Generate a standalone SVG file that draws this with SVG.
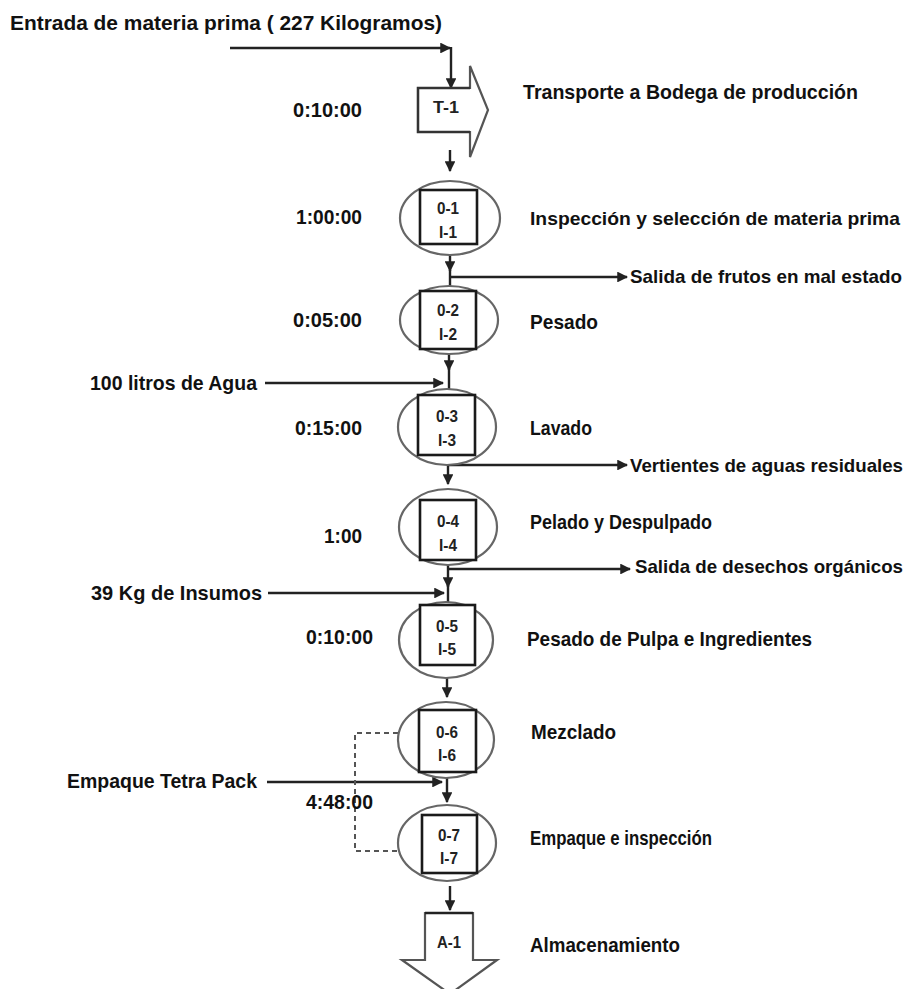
<svg xmlns="http://www.w3.org/2000/svg" width="915" height="989" viewBox="0 0 915 989">
<style>
.t{font-family:"Liberation Sans",Arial,sans-serif;font-weight:bold;font-size:21px;fill:#111}
.r{font-size:18.5px}
.n{font-family:"Liberation Sans",Arial,sans-serif;font-weight:bold;font-size:17px;fill:#222;text-anchor:middle}
.el{fill:#fff;stroke:#666;stroke-width:2.2}
.sq{fill:#fff;stroke:#1a1a1a;stroke-width:2.6}
.ln{fill:none;stroke:#222;stroke-width:2.4}
.ds{fill:none;stroke:#555;stroke-width:2;stroke-dasharray:5,4}
.sh{fill:#fff;stroke:#555;stroke-width:2.2;stroke-linejoin:miter}
</style>
<defs>
<marker id="ah" viewBox="0 0 10 10" refX="9" refY="5" markerWidth="4.5" markerHeight="4.5" orient="auto" markerUnits="strokeWidth">
<path d="M0,0 L10,5 L0,10 z" fill="#222"/>
</marker>
</defs>
<rect width="915" height="989" fill="#fff"/>

<g id="connectors">
<line class="ln" x1="230" y1="48" x2="450" y2="48" marker-end="url(#ah)"/>
<line class="ln" x1="451" y1="47" x2="451" y2="88" marker-end="url(#ah)"/>
<line class="ln" x1="450" y1="150" x2="450" y2="171" marker-end="url(#ah)"/>
<line class="ln" x1="450" y1="255" x2="450" y2="271" marker-end="url(#ah)"/>
<line class="ln" x1="450" y1="270" x2="450" y2="288"/>
<line class="ln" x1="450" y1="277" x2="627" y2="277" marker-end="url(#ah)"/>
<line class="ln" x1="449" y1="353" x2="449" y2="370" marker-end="url(#ah)"/>
<line class="ln" x1="449" y1="368" x2="449" y2="390"/>
<line class="ln" x1="265" y1="383" x2="443" y2="383" marker-end="url(#ah)"/>
<line class="ln" x1="448" y1="465" x2="627" y2="465" marker-end="url(#ah)"/>
<line class="ln" x1="448" y1="465" x2="448" y2="484" marker-end="url(#ah)"/>
<line class="ln" x1="448" y1="569" x2="630" y2="569" marker-end="url(#ah)"/>
<line class="ln" x1="448" y1="565" x2="448" y2="587" marker-end="url(#ah)"/>
<line class="ln" x1="448" y1="585" x2="448" y2="602"/>
<line class="ln" x1="268" y1="593" x2="444" y2="593" marker-end="url(#ah)"/>
<line class="ln" x1="447" y1="677" x2="447" y2="697" marker-end="url(#ah)"/>
<line class="ln" x1="447" y1="778" x2="447" y2="802" marker-end="url(#ah)"/>
<line class="ln" x1="267" y1="782" x2="442" y2="782" marker-end="url(#ah)"/>
<polyline class="ds" points="398,733 355,733 355,851 398,851"/>
<line class="ln" x1="450" y1="886" x2="450" y2="910" marker-end="url(#ah)"/>
</g>

<g id="title"><text class="t" x="10" y="30" textLength="432" lengthAdjust="spacingAndGlyphs">Entrada de materia prima ( 227 Kilogramos)</text></g>

<g id="T-1">
<polygon class="sh" points="418,88 470,88 470,66 488,110 470,157 470,132 418,132"/>
<polyline fill="none" stroke="#333" stroke-width="2.4" points="470,88 418,88 418,132 470,132"/>
<text class="n" x="446" y="113" textLength="26" lengthAdjust="spacingAndGlyphs">T-1</text>
<text class="t" x="293" y="117" textLength="69" lengthAdjust="spacingAndGlyphs">0:10:00</text>
<text class="t" x="523" y="99" textLength="335" lengthAdjust="spacingAndGlyphs">Transporte a Bodega de producción</text>
</g>

<g id="O-1">
<ellipse class="el" cx="450" cy="218" rx="50" ry="37"/>
<rect class="sq" x="420" y="190" width="57" height="54"/>
<text class="n" x="448" y="214" textLength="22" lengthAdjust="spacingAndGlyphs">0-1</text>
<text class="n" x="448" y="238" textLength="18" lengthAdjust="spacingAndGlyphs">I-1</text>
<text class="t" x="296" y="224" textLength="66" lengthAdjust="spacingAndGlyphs">1:00:00</text>
<text class="t r" x="530" y="225" textLength="370" lengthAdjust="spacingAndGlyphs">Inspección y selección de materia prima</text>
<text class="t r" x="630" y="283" textLength="272" lengthAdjust="spacingAndGlyphs">Salida de frutos en mal estado</text>
</g>

<g id="O-2">
<ellipse class="el" cx="449" cy="320" rx="49" ry="34"/>
<rect class="sq" x="420" y="291" width="56" height="58"/>
<text class="n" x="448" y="316" textLength="22" lengthAdjust="spacingAndGlyphs">0-2</text>
<text class="n" x="448" y="340" textLength="18" lengthAdjust="spacingAndGlyphs">I-2</text>
<text class="t" x="293" y="327" textLength="69" lengthAdjust="spacingAndGlyphs">0:05:00</text>
<text class="t" x="530" y="329" textLength="68" lengthAdjust="spacingAndGlyphs">Pesado</text>
<text class="t" x="90" y="390" textLength="167" lengthAdjust="spacingAndGlyphs">100 litros de Agua</text>
</g>

<g id="O-3">
<ellipse class="el" cx="447" cy="427" rx="49" ry="38"/>
<rect class="sq" x="418" y="395" width="57" height="60"/>
<text class="n" x="447" y="422" textLength="22" lengthAdjust="spacingAndGlyphs">0-3</text>
<text class="n" x="447" y="446" textLength="18" lengthAdjust="spacingAndGlyphs">I-3</text>
<text class="t" x="295" y="435" textLength="67" lengthAdjust="spacingAndGlyphs">0:15:00</text>
<text class="t" x="530" y="435" textLength="62" lengthAdjust="spacingAndGlyphs">Lavado</text>
<text class="t r" x="630" y="472" textLength="273" lengthAdjust="spacingAndGlyphs">Vertientes de aguas residuales</text>
</g>

<g id="O-4">
<ellipse class="el" cx="448" cy="527" rx="49" ry="38"/>
<rect class="sq" x="420" y="500" width="56" height="60"/>
<text class="n" x="448" y="527" textLength="22" lengthAdjust="spacingAndGlyphs">0-4</text>
<text class="n" x="448" y="551" textLength="18" lengthAdjust="spacingAndGlyphs">I-4</text>
<text class="t" x="324" y="543" textLength="38" lengthAdjust="spacingAndGlyphs">1:00</text>
<text class="t" x="530" y="529" textLength="182" lengthAdjust="spacingAndGlyphs">Pelado y Despulpado</text>
<text class="t r" x="635" y="573" textLength="268" lengthAdjust="spacingAndGlyphs">Salida de desechos orgánicos</text>
<text class="t" x="91" y="600" textLength="171" lengthAdjust="spacingAndGlyphs">39 Kg de  Insumos</text>
</g>

<g id="O-5">
<ellipse class="el" cx="446" cy="640" rx="47" ry="38"/>
<rect class="sq" x="420" y="605" width="55" height="60"/>
<text class="n" x="447" y="632" textLength="22" lengthAdjust="spacingAndGlyphs">0-5</text>
<text class="n" x="447" y="655" textLength="18" lengthAdjust="spacingAndGlyphs">I-5</text>
<text class="t" x="306" y="644" textLength="67" lengthAdjust="spacingAndGlyphs">0:10:00</text>
<text class="t" x="527" y="646" textLength="285" lengthAdjust="spacingAndGlyphs">Pesado de Pulpa e Ingredientes</text>
</g>

<g id="O-6">
<ellipse class="el" cx="446" cy="740" rx="48" ry="38"/>
<rect class="sq" x="419" y="710" width="57" height="62"/>
<text class="n" x="447" y="738" textLength="22" lengthAdjust="spacingAndGlyphs">0-6</text>
<text class="n" x="447" y="761" textLength="18" lengthAdjust="spacingAndGlyphs">I-6</text>
<text class="t" x="531" y="739" textLength="85" lengthAdjust="spacingAndGlyphs">Mezclado</text>
<text class="t" x="67" y="788" textLength="190" lengthAdjust="spacingAndGlyphs">Empaque Tetra Pack</text>
<text class="t" x="306" y="809" textLength="67" lengthAdjust="spacingAndGlyphs">4:48:00</text>
</g>

<g id="O-7">
<ellipse class="el" cx="447" cy="843" rx="49" ry="38"/>
<rect class="sq" x="422" y="815" width="55" height="58"/>
<text class="n" x="449" y="841" textLength="22" lengthAdjust="spacingAndGlyphs">0-7</text>
<text class="n" x="449" y="864" textLength="18" lengthAdjust="spacingAndGlyphs">I-7</text>
<text class="t" x="530" y="845" textLength="182" lengthAdjust="spacingAndGlyphs">Empaque e inspección</text>
</g>

<g id="A-1">
<polygon class="sh" points="425,913 473,913 473,960 497,960 450,994 402,960 425,960"/>
<line x1="425" y1="913" x2="473" y2="913" stroke="#222" stroke-width="2.4"/>
<text class="n" x="449" y="948" textLength="24" lengthAdjust="spacingAndGlyphs">A-1</text>
<text class="t" x="530" y="952" textLength="150" lengthAdjust="spacingAndGlyphs">Almacenamiento</text>
</g>
</svg>
